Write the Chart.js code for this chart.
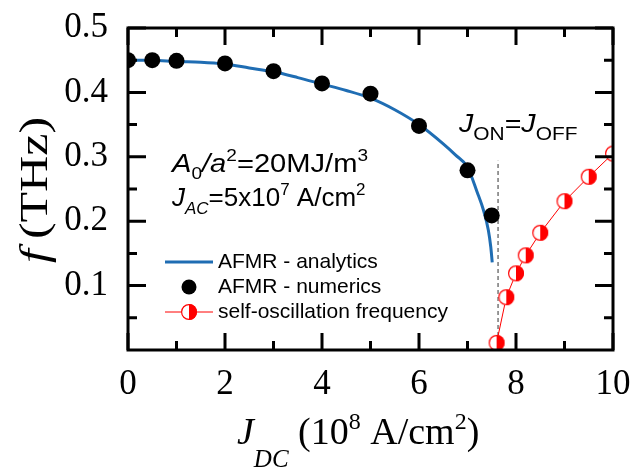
<!DOCTYPE html>
<html>
<head>
<meta charset="utf-8">
<script src="https://cdn.jsdelivr.net/npm/chart.js@4.4.1/dist/chart.umd.min.js"></script>
<style>
  html, body { margin: 0; padding: 0; background: #fff; }
  #wrap { width: 635px; height: 471px; }
</style>
</head>
<body>
<div id="wrap"><canvas id="myChart" width="635" height="471"></canvas></div>
<script>
// J_DC in units of 10^8 A/cm^2, frequency in THz
var analyticJ = [0, 0.5, 1, 1.5, 2, 2.5, 3, 3.5, 4, 4.5, 5, 5.5, 6, 6.5, 6.75, 7, 7.2, 7.33, 7.43, 7.48, 7.51];
var analyticF = [0.450, 0.450, 0.448, 0.447, 0.444, 0.438, 0.432, 0.423, 0.413, 0.403, 0.391, 0.373, 0.350, 0.320, 0.303, 0.284, 0.245, 0.217, 0.186, 0.160, 0.136];

var numericJ = [0, 0.5, 1, 2, 3, 4, 5, 6, 7, 7.5];
var numericF = [0.450, 0.450, 0.449, 0.445, 0.433, 0.414, 0.398, 0.348, 0.279, 0.209];

var selfOscJ = [7.6, 7.8, 8.0, 8.2, 8.5, 9.0, 9.5, 10.0];
var selfOscF = [0.011, 0.082, 0.119, 0.147, 0.182, 0.231, 0.269, 0.305];

// J_ON = J_OFF marker line
var thresholdJ = 7.63;
var thresholdTop = 0.294;

var xTicks = [0, 2, 4, 6, 8, 10];
var xMinor = [1, 3, 5, 7, 9];
var yTicks = [0.1, 0.2, 0.3, 0.4, 0.5];
var yMinor = [0.05, 0.15, 0.25, 0.35, 0.45];

var RED = "#ff0000";
var BLUE = "#1f6db3";
var SANS = "'Liberation Sans', Arial, sans-serif";
var SERIF = "'Liberation Serif', 'Times New Roman', serif";

function pts(xs, ys) {
  return xs.map(function (x, i) { return { x: x, y: ys[i] }; });
}

// circle, left half open, right half filled
function halfMarker(r) {
  var c = document.createElement("canvas");
  var s = Math.ceil(r * 2 + 2);
  c.width = s; c.height = s;
  var g = c.getContext("2d");
  var m = s / 2;
  g.fillStyle = "#fff";
  g.beginPath(); g.arc(m, m, r, 0, Math.PI * 2); g.fill();
  g.fillStyle = RED;
  g.beginPath(); g.moveTo(m, m - r); g.arc(m, m, r, -Math.PI / 2, Math.PI / 2); g.closePath(); g.fill();
  g.strokeStyle = RED; g.lineWidth = 1.2;
  g.beginPath(); g.arc(m, m, r - 0.6, 0, Math.PI * 2); g.stroke();
  return c;
}
var halfDot = halfMarker(8);

// draws a run of text pieces (sub/superscripts via dy)
function drawRuns(ctx, x, y, runs, sx) {
  ctx.save();
  ctx.translate(x, y);
  ctx.scale(sx || 1, 1);
  var cx = 0;
  runs.forEach(function (r) {
    ctx.font = r.font;
    ctx.fillText(r.t, cx, r.dy || 0);
    cx += ctx.measureText(r.t).width;
  });
  ctx.restore();
}

// keep the plot box fixed: no extra room for edge labels
function noEdgePadding(axis) {
  axis.paddingTop = 0;
  axis.paddingBottom = 0;
  axis.paddingLeft = 0;
  axis.paddingRight = 0;
}

var framePlugin = {
  id: "frame",
  afterDatasetsDraw: function (chart) {
    var ctx = chart.ctx, a = chart.chartArea;
    var xs = chart.scales.x, ys = chart.scales.y;
    ctx.save();
    ctx.strokeStyle = "#000";
    ctx.lineWidth = 3;
    ctx.lineCap = "butt";
    ctx.beginPath();
    function vt(v, len) {
      var px = xs.getPixelForValue(v);
      ctx.moveTo(px, a.bottom); ctx.lineTo(px, a.bottom - len);
      ctx.moveTo(px, a.top); ctx.lineTo(px, a.top + len);
    }
    function ht(v, len) {
      var py = ys.getPixelForValue(v);
      ctx.moveTo(a.left, py); ctx.lineTo(a.left + len, py);
      ctx.moveTo(a.right, py); ctx.lineTo(a.right - len, py);
    }
    xTicks.forEach(function (v) { vt(v, 17); });
    xMinor.forEach(function (v) { vt(v, 9); });
    yTicks.forEach(function (v) { ht(v, 18); });
    yMinor.forEach(function (v) { ht(v, 9); });
    ctx.stroke();
    ctx.strokeRect(a.left, a.top, a.right - a.left, a.bottom - a.top);
    ctx.restore();
  }
};

var textPlugin = {
  id: "labels",
  afterDraw: function (chart) {
    var ctx = chart.ctx;
    ctx.save();
    ctx.fillStyle = "#000";
    ctx.textBaseline = "alphabetic";

    var n = "26px " + SANS, ni = "italic 26px " + SANS, s = "17px " + SANS, si = "italic 17px " + SANS;
    drawRuns(ctx, 172, 172, [
      { t: "A", font: ni }, { t: "0", font: s, dy: 7 }, { t: "/", font: ni },
      { t: "a", font: ni }, { t: "2", font: s, dy: -11 }, { t: "=20MJ/m", font: n },
      { t: "3", font: s, dy: -11 }
    ], 1.12);
    drawRuns(ctx, 172, 206, [
      { t: "J", font: ni }, { t: "AC", font: si, dy: 8 }, { t: "=5x10", font: n },
      { t: "7", font: s, dy: -11 }, { t: " A/cm", font: n }, { t: "2", font: s, dy: -11 }
    ], 1.0);
    drawRuns(ctx, 459, 132, [
      { t: "J", font: ni }, { t: "ON", font: "19px " + SANS, dy: 8 }, { t: "=", font: n },
      { t: "J", font: ni }, { t: "OFF", font: "19px " + SANS, dy: 8 }
    ], 1.1);

    // legend
    ctx.font = "21px " + SANS;
    ctx.textBaseline = "middle";
    ctx.fillText("AFMR - analytics", 218, 262);
    ctx.fillText("AFMR - numerics", 218, 287);
    ctx.fillText("self-oscillation frequency", 218, 312);
    ctx.strokeStyle = BLUE; ctx.lineWidth = 3;
    ctx.beginPath(); ctx.moveTo(165, 262); ctx.lineTo(213, 262); ctx.stroke();
    ctx.fillStyle = "#000";
    ctx.beginPath(); ctx.arc(189, 287, 7.5, 0, Math.PI * 2); ctx.fill();
    ctx.strokeStyle = RED; ctx.lineWidth = 1;
    ctx.beginPath(); ctx.moveTo(165, 312); ctx.lineTo(213, 312); ctx.stroke();
    ctx.drawImage(halfDot, 189 - halfDot.width / 2, 312 - halfDot.height / 2);

    // axis titles
    ctx.fillStyle = "#000";
    ctx.textBaseline = "alphabetic";
    var T = "38px " + SERIF, Ti = "italic 38px " + SERIF, t = "24px " + SERIF, ti = "italic 25px " + SERIF;
    drawRuns(ctx, 237, 444, [
      { t: "J", font: Ti }, { t: "DC", font: ti, dy: 23 }, { t: " (10", font: T },
      { t: "8", font: t, dy: -15 }, { t: " A/cm", font: T }, { t: "2", font: t, dy: -15 },
      { t: ")", font: T }
    ]);
    ctx.save();
    ctx.translate(47, 263);
    ctx.rotate(-Math.PI / 2);
    drawRuns(ctx, 0, 0, [
      { t: "f", font: "italic 41px " + SERIF }, { t: "\u2009(THz)", font: "41px " + SERIF }
    ], 1.22);
    ctx.restore();
    ctx.restore();
  }
};

var ctx = document.getElementById("myChart").getContext("2d");
var myChart = new Chart(ctx, {
  type: "scatter",
  data: {
    datasets: [
      {
        label: "self-oscillation frequency",
        data: pts(selfOscJ, selfOscF),
        showLine: true,
        borderColor: RED,
        borderWidth: 1,
        pointStyle: halfDot,
        pointRadius: 8,
        clip: 0
      },
      {
        label: "AFMR - numerics",
        data: pts(numericJ, numericF),
        pointStyle: "circle",
        pointRadius: 8,
        backgroundColor: "#000",
        borderColor: "#000",
        borderWidth: 0,
        clip: 0
      },
      {
        label: "threshold",
        data: [{ x: thresholdJ, y: 0 }, { x: thresholdJ, y: thresholdTop }],
        showLine: true,
        borderColor: "#777",
        borderWidth: 1.5,
        borderDash: [4, 3],
        pointRadius: 0
      },
      {
        label: "AFMR - analytics",
        data: pts(analyticJ, analyticF),
        showLine: true,
        borderColor: BLUE,
        borderWidth: 3,
        pointRadius: 0,
        cubicInterpolationMode: "monotone",
        clip: 0
      }
    ]
  },
  options: {
    responsive: false,
    animation: false,
    layout: { padding: { top: 28, right: 22, left: 0, bottom: 0 } },
    plugins: { legend: { display: false }, tooltip: { enabled: false } },
    scales: {
      x: {
        type: "linear",
        min: 0,
        max: 10,
        afterBuildTicks: function (axis) { axis.ticks = xTicks.map(function (v) { return { value: v }; }); },
        afterFit: function (axis) { axis.height = 121; noEdgePadding(axis); },
        grid: { display: false, drawTicks: false },
        border: { display: false },
        ticks: {
          font: { family: SERIF, size: 35 },
          color: "#000",
          padding: 14,
          maxRotation: 0,
          autoSkip: false
        }
      },
      y: {
        type: "linear",
        min: 0,
        max: 0.5,
        afterBuildTicks: function (axis) { axis.ticks = yTicks.map(function (v) { return { value: v }; }); },
        afterFit: function (axis) { axis.width = 128; noEdgePadding(axis); },
        grid: { display: false, drawTicks: false },
        border: { display: false },
        ticks: {
          font: { family: SERIF, size: 35 },
          color: "#000",
          padding: 20,
          autoSkip: false,
          callback: function (v) { return v.toFixed(1); }
        }
      }
    }
  },
  plugins: [framePlugin, textPlugin]
});
</script>
</body>
</html>
